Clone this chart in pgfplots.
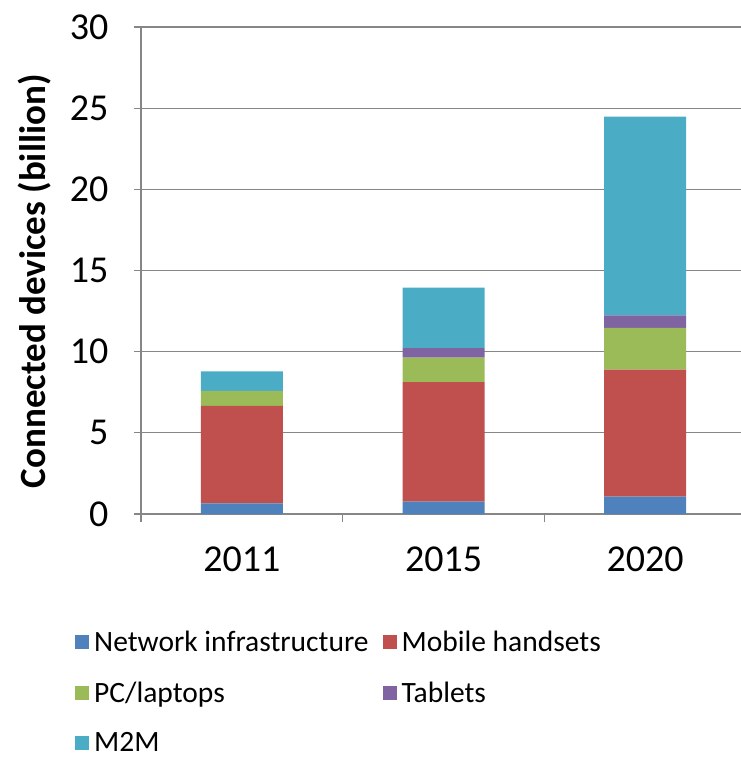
\documentclass[border=0pt]{standalone}
\usepackage{pgfplots}
\pgfplotsset{compat=1.18}
\usepackage{pgfplotstable}
\usepackage{fontspec}
\setmainfont{Carlito}
\definecolor{cInfra}{HTML}{4F81BD}
\definecolor{cMobile}{HTML}{C0504D}
\definecolor{cPC}{HTML}{9BBB59}
\definecolor{cTab}{HTML}{8064A2}
\definecolor{cM2M}{HTML}{4BACC6}
\definecolor{axisgray}{HTML}{868686}
\pgfplotstableread{
x infra mobile pc tablets mtm
0 0.65 6.01 0.92 0.00 1.21
1 0.76 7.36 1.51 0.59 3.73
2 1.07 7.82 2.57 0.78 12.24
}\data
\pgfplotsset{sqleg/.style={legend image code/.code={\fill[##1,draw=none] (0bp,-7bp) rectangle (14bp,7bp);}}}
\begin{document}
\begin{tikzpicture}
\path[use as bounding box] (-141bp,-244bp) rectangle (600bp,514bp);
\begin{axis}[
  at={(0,0)}, anchor=south west,
  scale only axis, width=600bp, height=487bp,
  ybar stacked, bar width=82bp,
  xmin=-0.5, xmax=2.475, ymin=0, ymax=30,
  xtick={0,1,2}, xticklabels={2011,2015,2020},
  minor xtick={-0.5,0.5,1.5},
  ytick={0,5,10,15,20,25,30},
  axis x line*=bottom, axis y line*=left,
  axis line style={color=axisgray, line width=1.3bp, -},
  ymajorgrids, grid style={color=axisgray, line width=1.3bp},
  tick align=center, major tick length=14bp,
  major x tick style={draw=none},
  minor tick length=8bp, minor x tick style={color=axisgray, line width=1.3bp, yshift=-4bp},
  y tick style={color=axisgray, line width=1.3bp},
  /pgf/number format/assume math mode=true,
  tick label style={font=\fontsize{38bp}{44bp}\selectfont, text=black},
  xticklabel style={yshift=-22bp},
  yticklabel style={xshift=-22bp},
  ylabel={Connected devices (billion)},
  ylabel style={font=\bfseries\fontsize{37bp}{44bp}\selectfont, at={(axis description cs:-0.177,0.478)}, anchor=center},
  legend columns=2,
  legend cell align=left,
  legend style={at={(axis description cs:-0.11,-0.237)}, anchor=north west, draw=none, fill=none, inner sep=0pt,
    font=\fontsize{29.5bp}{34bp}\selectfont, row sep=27bp,
    nodes={inner xsep=5bp, inner ysep=1bp},
    /tikz/every even column/.append style={column sep=9bp}},
]
\addplot[fill=cInfra, draw=none, sqleg] table[x=x, y=infra] {\data};
\addplot[fill=cMobile, draw=none, sqleg] table[x=x, y=mobile] {\data};
\addplot[fill=cPC, draw=none, sqleg] table[x=x, y=pc] {\data};
\addplot[fill=cTab, draw=none, sqleg] table[x=x, y=tablets] {\data};
\addplot[fill=cM2M, draw=none, sqleg] table[x=x, y=mtm] {\data};
\legend{Network infrastructure, Mobile handsets, PC/laptops, Tablets, M2M}
\end{axis}
\end{tikzpicture}
\end{document}
